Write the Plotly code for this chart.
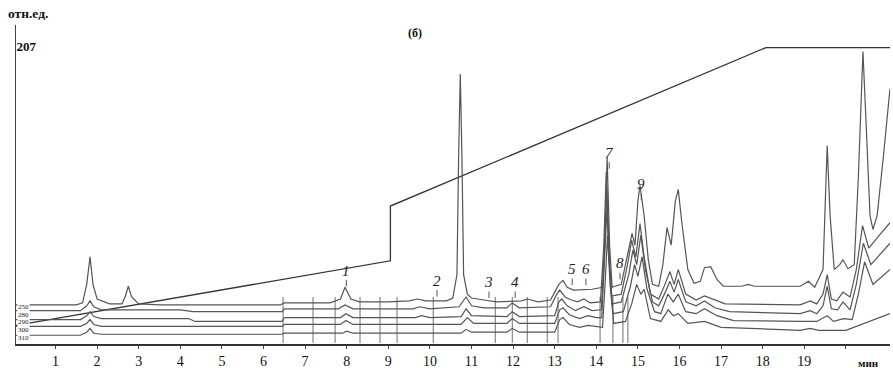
import plotly.graph_objects as go

# ---- data (time in min, signal in отн.ед.) ----
wavelengths = ["250", "280", "290", "300", "310"]
wavelength_label_y = [25.9, 20.4, 15.0, 9.5, 4.1]

t_250 = [0.0, 1.5, 1.65, 1.75, 1.83, 1.9, 2.0, 2.3, 2.6, 2.68, 2.75, 2.83, 3.0, 3.5, 6.4, 6.5, 7.6, 7.85, 7.96, 8.1,
         8.3, 9.0, 9.5, 9.7, 9.9, 10.4, 10.55, 10.65, 10.69, 10.73, 10.77, 10.81, 10.9, 11.0, 11.3, 11.6, 12.2, 12.35,
         12.6, 12.9, 13.0, 13.1, 13.2, 13.3, 13.45, 13.9, 14.15, 14.2, 14.26, 14.32, 14.38, 14.6, 14.75, 14.86, 14.93,
         15.0, 15.05, 15.15, 15.25, 15.35, 15.5, 15.6, 15.7, 15.8, 15.9, 15.97, 16.05, 16.2, 16.35, 16.5, 16.6, 16.75,
         16.9, 17.05, 17.5, 17.65, 17.8, 18.9, 19.1, 19.25, 19.45, 19.55, 19.62, 19.72, 19.85, 19.93, 20.05, 20.2, 20.3,
         20.41, 20.5, 20.58, 20.65, 20.75, 20.9, 21.06]
v_250 = [27.2, 27.2, 28.6, 41.5, 60.6, 41.5, 31.3, 27.9, 27.9, 33.4, 40.2, 32.7, 27.9, 27.2, 27.2, 28.6, 28.6, 31.3, 39.5, 31.3,
         29.3, 29.3, 30.0, 31.3, 30.0, 30.0, 32.0, 48.3, 130.1, 187.9, 130.1, 48.3, 34.7, 32.0, 30.6, 29.3, 30.0, 31.3,
         29.3, 30.6, 36.1, 41.5, 44.3, 39.5, 37.5, 38.1, 39.5, 68.8, 130.1, 68.8, 39.5, 41.5, 62.0, 77.0, 68.8,
         99.4, 110.3, 89.2, 58.6, 41.5, 40.2, 55.2, 81.0, 68.8, 99.4, 107.6, 85.8, 51.8, 42.2, 43.6, 53.1, 53.8,
         44.9, 40.2, 40.2, 41.5, 40.2, 40.2, 43.6, 39.5, 51.8, 138.2, 89.2, 51.8, 55.2, 58.6, 52.4, 55.2, 116.4,
         203.6, 143.7, 89.2, 79.7, 89.2, 130.1, 177.7]

t_280 = [0.0, 1.6, 1.75, 1.83, 1.92, 2.1, 4.0, 4.3, 6.45, 6.5, 7.8, 7.96, 8.15, 9.6, 9.75, 10.0, 10.7, 10.87, 11.0, 11.3,
         11.85, 11.98, 12.15, 12.9, 13.05, 13.12, 13.25, 13.4, 13.55, 13.7, 13.85, 14.1, 14.18, 14.24, 14.3, 14.37,
         14.6, 14.75, 14.85, 14.95, 15.05, 15.15, 15.3, 15.5, 15.65, 15.77, 15.87, 15.97, 16.15, 16.4, 16.6, 16.85,
         17.1, 18.9, 19.14, 19.3, 19.45, 19.55, 19.65, 19.78, 19.93, 20.1, 20.25, 20.4, 20.55, 20.8, 21.06]
v_280 = [23.2, 23.2, 26.6, 30.0, 25.9, 23.8, 23.8, 22.5, 22.5, 24.5, 24.5, 27.2, 24.5, 24.5, 25.9, 24.5, 25.9, 32.7, 26.6, 25.2,
         25.2, 28.6, 25.2, 25.9, 34.7, 37.5, 32.7, 30.6, 29.3, 31.3, 28.6, 29.3, 68.8, 119.9, 62.0, 33.4,
         34.7, 55.2, 72.2, 60.6, 83.8, 60.6, 34.7, 31.3, 41.5, 50.4, 41.5, 51.8, 34.7, 30.6, 33.4, 30.6,
         27.9, 27.2, 30.0, 27.9, 34.7, 48.3, 31.3, 30.0, 36.1, 32.7, 51.8, 82.4, 66.7, 75.6, 84.4]

t_290 = [0.0, 1.6, 1.75, 1.83, 1.92, 2.1, 4.2, 4.35, 6.45, 6.5, 7.85, 7.98, 8.15, 9.65, 9.8, 10.0, 10.75, 10.87, 11.0, 11.85,
         11.98, 12.15, 13.0, 13.1, 13.17, 13.3, 13.5, 13.7, 13.9, 14.12, 14.19, 14.25, 14.31, 14.38, 14.6, 14.78,
         14.88, 14.97, 15.07, 15.18, 15.35, 15.5, 15.66, 15.77, 15.87, 15.97, 16.15, 16.4, 16.6, 16.85, 17.2, 18.9,
         19.14, 19.3, 19.45, 19.55, 19.65, 19.8, 19.93, 20.1, 20.25, 20.42, 20.6, 20.85, 21.06]
v_290 = [17.0, 17.0, 19.7, 22.5, 19.1, 17.7, 17.7, 15.7, 15.7, 18.4, 18.4, 21.1, 18.4, 18.4, 19.7, 18.4, 19.1, 24.5, 19.7, 19.1,
         22.5, 19.1, 19.7, 29.3, 31.3, 26.6, 23.2, 25.9, 23.2, 23.8, 62.0, 109.6, 58.6, 27.9, 29.3, 48.3,
         65.4, 55.2, 75.6, 51.8, 29.3, 26.6, 36.1, 43.6, 36.1, 44.9, 29.3, 26.6, 30.0, 25.2, 22.5, 21.1,
         23.2, 21.1, 26.6, 40.2, 24.5, 23.8, 29.3, 23.8, 41.5, 70.1, 55.2, 63.3, 70.1]

t_300 = [0.0, 1.6, 1.75, 1.83, 1.92, 2.1, 6.45, 6.5, 7.85, 7.98, 8.15, 10.75, 10.9, 11.05, 11.85, 11.98, 12.15, 13.0, 13.12,
         13.2, 13.35, 13.6, 13.8, 14.0, 14.13, 14.2, 14.26, 14.32, 14.4, 14.65, 14.82, 14.92, 15.0, 15.1, 15.22,
         15.4, 15.55, 15.72, 15.85, 15.97, 16.15, 16.4, 16.6, 16.9, 17.3, 18.9, 19.3, 19.55, 19.7, 19.95, 20.15,
         20.3, 20.45, 20.65, 20.85, 21.06]
v_300 = [12.3, 12.3, 14.3, 17.0, 13.6, 12.3, 12.3, 13.6, 13.6, 16.3, 13.6, 13.6, 18.4, 14.3, 14.3, 17.7, 14.3, 14.3, 23.8,
         25.2, 20.4, 17.7, 19.7, 18.4, 18.4, 55.2, 96.0, 53.8, 21.1, 22.5, 40.2, 55.2, 47.0, 60.6, 38.1,
         22.5, 21.1, 34.7, 29.3, 34.7, 22.5, 21.1, 24.5, 19.7, 16.3, 15.7, 15.7, 19.7, 15.7, 17.7, 17.0,
         34.7, 57.2, 41.5, 46.3, 51.8]

t_310 = [0.0, 1.6, 1.75, 1.83, 1.92, 2.1, 6.45, 6.5, 7.9, 8.0, 8.15, 10.75, 10.87, 11.0, 11.85, 11.98, 12.15, 13.0, 13.12,
         13.2, 13.35, 13.6, 13.8, 14.05, 14.15, 14.21, 14.27, 14.33, 14.42, 14.7, 14.85, 14.97, 15.07, 15.15, 15.3,
         15.55, 15.73, 15.85, 15.97, 16.2, 16.6, 17.0, 18.9, 19.14, 19.35, 20.0, 20.25, 20.6, 21.06]
v_310 = [6.1, 6.1, 8.2, 10.9, 7.5, 6.8, 6.8, 7.5, 7.5, 8.9, 7.5, 7.5, 10.2, 8.2, 8.2, 10.9, 8.2, 8.2, 17.0,
         18.4, 13.6, 11.6, 12.9, 11.6, 11.6, 41.5, 75.6, 41.5, 14.3, 15.7, 27.9, 41.5, 34.7, 38.1, 17.7,
         15.7, 23.8, 19.7, 21.1, 14.3, 15.7, 11.6, 9.5, 10.9, 9.5, 9.5, 12.3, 15.7, 21.1]

# elution gradient (drawn in the same relative units)
t_grad = [0.05, 9.05, 9.05, 18.08, 21.06]
v_grad = [12.9, 57.9, 96.0, 206.3, 206.3]

# event marks on the baseline region
mark_times = [6.47, 7.19, 7.72, 8.32, 8.80, 9.21, 10.08, 11.57, 11.98, 12.34, 12.82, 13.08, 14.09, 14.40, 14.64, 14.76]
mark_low, mark_high = 0.7, 32.7

# numbered peaks
peak_labels = ["1", "2", "3", "4", "5", "6", "7", "8", "9"]
peak_times = [7.99, 10.17, 11.42, 12.05, 13.42, 13.75, 14.31, 14.57, 15.08]
peak_heights = [40.0, 33.0, 32.0, 32.0, 41.0, 41.0, 122.0, 45.0, 100.0]

x_ticks = list(range(1, 21))
x_ticktext = [str(i) for i in range(1, 20)] + [""]

SERIF = "Liberation Serif"
LINE = "#555555"

fig = go.Figure()

fig.add_trace(go.Scatter(x=t_grad, y=v_grad, mode="lines", line=dict(color="#333333", width=1.3),
                         hoverinfo="skip", showlegend=False))

mx, my = [], []
for t in mark_times:
    mx += [t, t, None]
    my += [mark_low, mark_high, None]
fig.add_trace(go.Scatter(x=mx, y=my, mode="lines", line=dict(color="#707070", width=1),
                         hoverinfo="skip", showlegend=False))

series = [(t_250, v_250), (t_280, v_280), (t_290, v_290), (t_300, v_300), (t_310, v_310)]
for name, (tt, vv) in zip(wavelengths, series):
    fig.add_trace(go.Scatter(x=tt, y=vv, mode="lines", name=name,
                             line=dict(color=LINE, width=1.2), showlegend=False))

# wavelength labels at the left end of each trace
for name, ly in zip(wavelengths, wavelength_label_y):
    fig.add_annotation(x=0.08, y=ly, text=name, showarrow=False, xanchor="left", yanchor="middle",
                       font=dict(family=SERIF, size=7, color="#222"), bgcolor="white", borderpad=0)

for lab, t, h in zip(peak_labels, peak_times, peak_heights):
    fig.add_annotation(x=t, y=h, text="<i>" + lab + "</i>", showarrow=True, arrowhead=0, arrowwidth=1,
                       arrowcolor="#555", ax=0, ay=-16, font=dict(family=SERIF, size=15, color="#222"))

fig.add_annotation(x=9.64, y=216.6, text="<b>(б)</b>", showarrow=False,
                   font=dict(family=SERIF, size=12, color="#111"))
fig.add_annotation(xref="paper", yref="paper", x=-0.012, y=1.005, text="<b>отн.ед.</b>", showarrow=False,
                   xanchor="left", yanchor="bottom", font=dict(family=SERIF, size=13.5, color="#111"))
fig.add_annotation(xref="paper", yref="paper", x=0.99, y=-0.035, text="<b>мин</b>", showarrow=False,
                   xanchor="right", yanchor="top", font=dict(family=SERIF, size=11, color="#111"))

fig.update_layout(
    width=893, height=372,
    margin=dict(l=16, r=3, t=25, b=21),
    paper_bgcolor="white", plot_bgcolor="white",
    xaxis=dict(range=[0.05, 21.06], tickvals=x_ticks, ticktext=x_ticktext, showgrid=False, zeroline=False,
               showline=True, linecolor="#333", linewidth=1.5, ticks="outside", ticklen=3, tickcolor="#444",
               tickfont=dict(family=SERIF, size=14, color="#111")),
    yaxis=dict(range=[0, 222], tickvals=[207], ticktext=["<b>207</b>"], showgrid=False, zeroline=False,
               showline=True, linecolor="#444", linewidth=1.2, ticks="", ticklabelposition="inside",
               tickfont=dict(family=SERIF, size=13, color="#111")),
)

fig.write_html("out.html", config={"displayModeBar": False},
               post_script="document.body.style.margin='0';")
